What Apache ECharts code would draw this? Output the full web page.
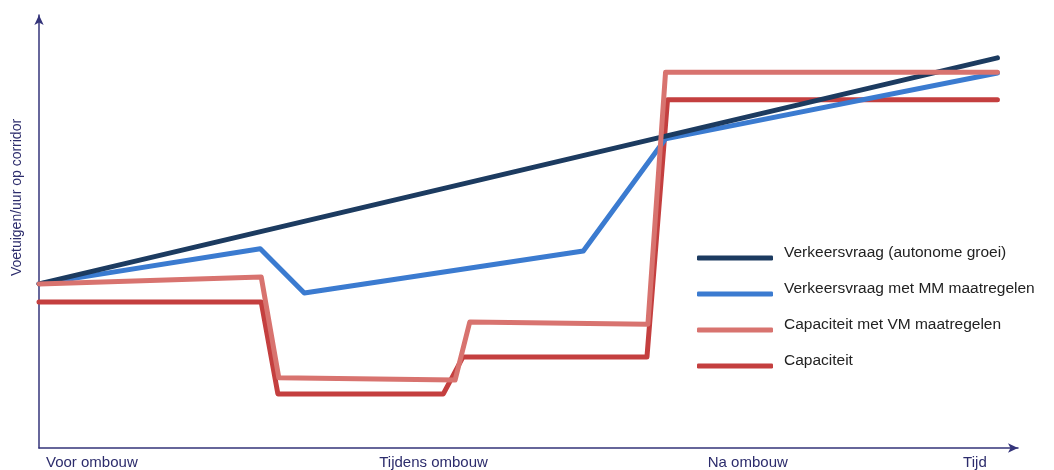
<!DOCTYPE html>
<html><head><meta charset="utf-8">
<script src="https://cdn.jsdelivr.net/npm/echarts@6/dist/echarts.min.js"></script>
<style>html,body{margin:0;padding:0;background:#fff}#c{width:1054px;height:470px}</style>
</head><body><div id="c"></div>
<script>
// Schematic units: x 0..100 (time), y 0..100 (vehicles/hour)
const seriesNames = ['Verkeersvraag (autonome groei)', 'Verkeersvraag met MM maatregelen', 'Capaciteit met VM maatregelen', 'Capaciteit'];
const demandAuto = [[0, 37.9], [97.9, 90.1]];
const demandMM = [[0, 37.9], [22.6, 46.0], [27.1, 35.8], [55.6, 45.5], [64.0, 71.4], [97.9, 86.6]];
const capacityVM = [[0, 37.9], [22.7, 39.5], [24.5, 16.2], [42.5, 15.7], [44.0, 29.1], [62.2, 28.6], [64.0, 86.8], [97.9, 86.8]];
const capacity = [[0, 33.7], [22.7, 33.7], [24.4, 12.5], [41.3, 12.5], [43.3, 21.0], [62.1, 21.0], [64.2, 80.4], [97.9, 80.4]];
const xTickPositions = [5.4, 40.3, 72.4, 95.6];
const xTickLabels = ['Voor ombouw', 'Tijdens ombouw', 'Na ombouw', 'Tijd'];
const yAxisName = 'Voetuigen/uur op corridor';

const colors = ['#1c3b60', '#3b7bd0', '#d8736f', '#c43f3f'];
const datasets = [demandAuto, demandMM, capacityVM, capacity];
const zs = [3, 2, 4, 1];
const axisColor = '#34347a';
const font = 'Liberation Sans, Arial, sans-serif';

const chart = echarts.init(document.getElementById('c'), null, {renderer: 'canvas'});
chart.setOption({
  animation: false,
  backgroundColor: '#fff',
  grid: {left: 39, right: 36, top: 15, bottom: 22, containLabel: false},
  legend: {
    orient: 'vertical', left: 697, top: 245, padding: 0, itemWidth: 76, itemHeight: 5, itemGap: 20,
    icon: 'roundRect',
    formatter: n => '{t|' + n + '}',
    textStyle: {
      fontFamily: font, fontSize: 15.5, color: '#222',
      rich: {t: {fontFamily: font, fontSize: 15.5, color: '#222', padding: [0, 0, 10, 6]}}
    },
    data: seriesNames
  },
  xAxis: {
    type: 'value', min: 0, max: 100,
    axisLine: {show: true, lineStyle: {color: axisColor, width: 1.5}, symbol: ['none', 'arrow'], symbolSize: [7, 10]},
    axisTick: {show: false}, splitLine: {show: false},
    axisLabel: {
      show: true, customValues: xTickPositions, margin: 7,
      fontFamily: font, fontSize: 15, color: '#2c2c6c',
      formatter: v => { const i = xTickPositions.indexOf(v); return i >= 0 ? xTickLabels[i] : ''; }
    }
  },
  yAxis: {
    type: 'value', min: 0, max: 100,
    name: yAxisName, nameLocation: 'middle', nameGap: 15, nameRotate: 90,
    nameTextStyle: {fontFamily: font, fontSize: 14, color: '#2c2c6c', padding: [0, 0, 0, 68]},
    axisLine: {show: true, lineStyle: {color: axisColor, width: 1.5}, symbol: ['none', 'arrow'], symbolSize: [7, 10]},
    axisTick: {show: false}, splitLine: {show: false}, axisLabel: {show: false}
  },
  series: seriesNames.map((n, i) => ({
    name: n, type: 'line', data: datasets[i], showSymbol: false, symbol: 'none', z: zs[i],
    lineStyle: {color: colors[i], width: 5, cap: 'round', join: 'round'},
    itemStyle: {color: colors[i]}
  }))
});
</script></body></html>
